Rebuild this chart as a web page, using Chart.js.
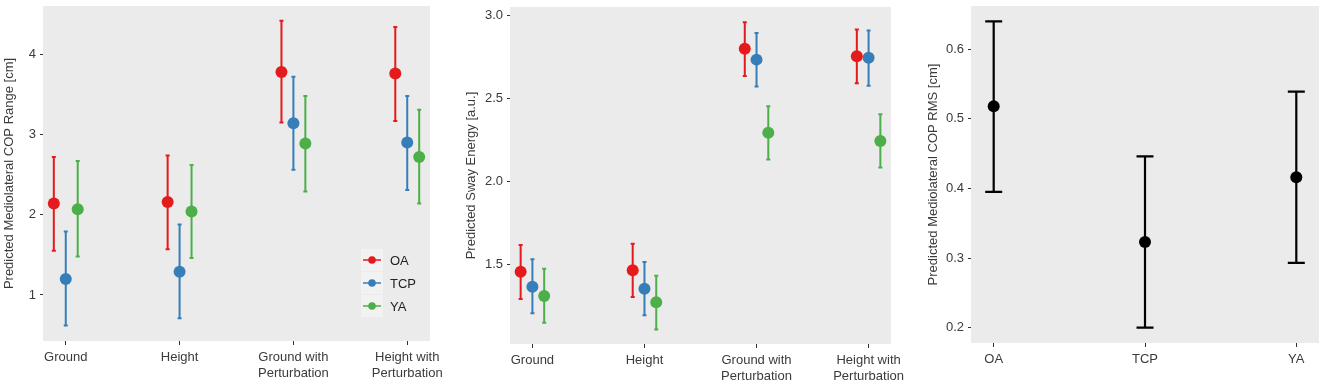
<!DOCTYPE html>
<html lang="en">
<head>
    <meta charset="UTF-8">
    <title>Predicted COP measures by condition and group</title>
    <script src="https://cdn.jsdelivr.net/npm/chart.js"></script>
    <style>
        body { margin: 0; background: #fff; }
        .panel { position: absolute; top: 0; }
    </style>
</head>
<body>
    <div class="panel" style="left:0px"><canvas id="rangeChart" width="450" height="387"></canvas></div>
    <div class="panel" style="left:450px"><canvas id="swayChart" width="455" height="387"></canvas></div>
    <div class="panel" style="left:905px"><canvas id="rmsChart" width="420" height="387"></canvas></div>

    <script>
        // categories
        const conditions = [['Ground'], ['Height'], ['Ground with', 'Perturbation'], ['Height with', 'Perturbation']];
        const groups = ['OA', 'TCP', 'YA'];
        const groupColors = ['#e41a1c', '#377eb8', '#4daf4a'];

        // panel 1: mediolateral COP range [cm]
        const rangeMeanOA = [2.14, 2.16, 3.78, 3.76];
        const rangeLowOA = [1.55, 1.57, 3.15, 3.17];
        const rangeHighOA = [2.72, 2.74, 4.42, 4.34];
        const rangeMeanTCP = [1.20, 1.29, 3.14, 2.90];
        const rangeLowTCP = [0.62, 0.71, 2.56, 2.31];
        const rangeHighTCP = [1.79, 1.88, 3.72, 3.48];
        const rangeMeanYA = [2.07, 2.04, 2.89, 2.72];
        const rangeLowYA = [1.48, 1.46, 2.29, 2.14];
        const rangeHighYA = [2.67, 2.62, 3.48, 3.31];
        const rangeTicks = [1, 2, 3, 4];
        const rangeTickLabels = ['1', '2', '3', '4'];

        // panel 2: sway energy [a.u.]
        const swayMeanOA = [1.455, 1.464, 2.798, 2.753];
        const swayLowOA = [1.291, 1.303, 2.635, 2.590];
        const swayHighOA = [1.616, 1.624, 2.958, 2.914];
        const swayMeanTCP = [1.365, 1.353, 2.733, 2.745];
        const swayLowTCP = [1.205, 1.193, 2.571, 2.576];
        const swayHighTCP = [1.530, 1.514, 2.894, 2.908];
        const swayMeanYA = [1.309, 1.271, 2.292, 2.243];
        const swayLowYA = [1.148, 1.108, 2.131, 2.083];
        const swayHighYA = [1.474, 1.431, 2.452, 2.404];
        const swayTicks = [1.5, 2.0, 2.5, 3.0];
        const swayTickLabels = ['1.5', '2.0', '2.5', '3.0'];

        // panel 3: mediolateral COP RMS [cm]
        const rmsMean = [0.518, 0.323, 0.416];
        const rmsLow = [0.395, 0.200, 0.293];
        const rmsHigh = [0.640, 0.446, 0.539];
        const rmsTicks = [0.2, 0.3, 0.4, 0.5, 0.6];
        const rmsTickLabels = ['0.2', '0.3', '0.4', '0.5', '0.6'];

        const dodge = 0.105;
        const font = 'Liberation Sans, Arial, sans-serif';
        const textColor = '#3b3b3b';

        Chart.defaults.font.family = font;
        Chart.defaults.font.size = 13;
        Chart.defaults.color = textColor;

        const panelBackground = {
            id: 'panelBackground',
            beforeDraw(chart) {
                const a = chart.chartArea;
                chart.ctx.save();
                chart.ctx.fillStyle = '#ebebeb';
                chart.ctx.fillRect(a.left, a.top, a.right - a.left, a.bottom - a.top);
                chart.ctx.restore();
            }
        };

        const errorBars = {
            id: 'errorBars',
            beforeDatasetsDraw(chart, args, opts) {
                const ctx = chart.ctx;
                const xs = chart.scales.x, ys = chart.scales.y;
                chart.data.datasets.forEach(ds => {
                    ctx.save();
                    ctx.strokeStyle = ds.backgroundColor;
                    ctx.lineWidth = opts.width;
                    ds.data.forEach((p, i) => {
                        const x = xs.getPixelForValue(p.x);
                        const y1 = ys.getPixelForValue(ds.low[i]);
                        const y2 = ys.getPixelForValue(ds.high[i]);
                        ctx.beginPath();
                        ctx.moveTo(x, y1); ctx.lineTo(x, y2);
                        ctx.moveTo(x - opts.cap, y1); ctx.lineTo(x + opts.cap, y1);
                        ctx.moveTo(x - opts.cap, y2); ctx.lineTo(x + opts.cap, y2);
                        ctx.stroke();
                    });
                    ctx.restore();
                });
            }
        };

        const groupLegend = {
            id: 'groupLegend',
            afterDraw(chart) {
                const ctx = chart.ctx;
                const a = chart.chartArea;
                const n = chart.data.datasets.length;
                const key = 22, gap = 1;
                const left = a.right - 69;
                const top = a.bottom - 24 - n * key - (n - 1) * gap;
                ctx.save();
                chart.data.datasets.forEach((ds, i) => {
                    const y = top + i * (key + gap);
                    ctx.fillStyle = '#f2f2f2';
                    ctx.fillRect(left, y, key, key);
                    ctx.strokeStyle = ds.backgroundColor;
                    ctx.lineWidth = 1.5;
                    ctx.beginPath();
                    ctx.moveTo(left + 2, y + key / 2);
                    ctx.lineTo(left + key - 2, y + key / 2);
                    ctx.stroke();
                    ctx.fillStyle = ds.backgroundColor;
                    ctx.beginPath();
                    ctx.arc(left + key / 2, y + key / 2, 3.8, 0, Math.PI * 2);
                    ctx.fill();
                    ctx.fillStyle = '#222';
                    ctx.font = '13px ' + font;
                    ctx.textBaseline = 'middle';
                    ctx.fillText(ds.label, left + key + 7, y + key / 2 + 1);
                });
                ctx.restore();
            }
        };

        function groupSet(label, color, offset, means, low, high) {
            return {
                label: label,
                data: means.map((v, i) => ({ x: i + 1 + offset, y: v })),
                low: low,
                high: high,
                backgroundColor: color,
                borderColor: color,
                borderWidth: 0,
                pointRadius: 6,
                pointHoverRadius: 6
            };
        }

        function noOverflow(axis) {
            axis.paddingLeft = 0;
            axis.paddingRight = 0;
            axis.paddingTop = 0;
            axis.paddingBottom = 0;
        }

        function makeChart(id, datasets, cfg) {
            new Chart(document.getElementById(id), {
                type: 'scatter',
                data: { datasets: datasets },
                plugins: cfg.legend ? [panelBackground, errorBars, groupLegend] : [panelBackground, errorBars],
                options: {
                    responsive: false,
                    animation: false,
                    events: [],
                    layout: { padding: cfg.padding },
                    plugins: {
                        legend: { display: false },
                        tooltip: { enabled: false },
                        errorBars: cfg.bars
                    },
                    scales: {
                        x: {
                            type: 'linear',
                            min: cfg.xMin,
                            max: cfg.xMax,
                            afterBuildTicks: axis => { axis.ticks = cfg.xLabels.map((c, i) => ({ value: i + 1 })); },
                            afterFit: axis => { axis.height = cfg.xHeight; noOverflow(axis); },
                            ticks: {
                                autoSkip: false,
                                maxRotation: 0,
                                padding: 5,
                                color: textColor,
                                callback: (v) => cfg.xLabels[Math.round(v) - 1]
                            },
                            grid: { drawOnChartArea: false, tickLength: 4, color: '#333' },
                            border: { display: false }
                        },
                        y: {
                            min: cfg.yMin,
                            max: cfg.yMax,
                            afterBuildTicks: axis => { axis.ticks = cfg.yTicks.map(v => ({ value: v })); },
                            afterFit: axis => { axis.width = cfg.yWidth; noOverflow(axis); },
                            ticks: {
                                padding: 4,
                                color: textColor,
                                callback: (v, i) => cfg.yTickLabels[i]
                            },
                            grid: { drawOnChartArea: false, tickLength: 3, color: '#333' },
                            border: { display: false },
                            title: {
                                display: true,
                                text: cfg.yTitle,
                                color: textColor,
                                font: { size: 13 },
                                padding: { top: cfg.titlePad, bottom: 0 }
                            }
                        }
                    }
                }
            });
        }

        makeChart('rangeChart', [
            groupSet(groups[0], groupColors[0], -dodge, rangeMeanOA, rangeLowOA, rangeHighOA),
            groupSet(groups[1], groupColors[1], 0, rangeMeanTCP, rangeLowTCP, rangeHighTCP),
            groupSet(groups[2], groupColors[2], dodge, rangeMeanYA, rangeLowYA, rangeHighYA)
        ], {
            legend: true,
            padding: { left: 0, right: 20, top: 4, bottom: 0 },
            bars: { width: 2, cap: 2 },
            xMin: 0.8, xMax: 4.2, xLabels: conditions, xHeight: 46,
            yMin: 0.426, yMax: 4.603, yTicks: rangeTicks, yTickLabels: rangeTickLabels, yWidth: 43,
            yTitle: 'Predicted Mediolateral COP Range [cm]', titlePad: 2
        });

        makeChart('swayChart', [
            groupSet(groups[0], groupColors[0], -dodge, swayMeanOA, swayLowOA, swayHighOA),
            groupSet(groups[1], groupColors[1], 0, swayMeanTCP, swayLowTCP, swayHighTCP),
            groupSet(groups[2], groupColors[2], dodge, swayMeanYA, swayLowYA, swayHighYA)
        ], {
            legend: false,
            padding: { left: 0, right: 14, top: 7, bottom: 0 },
            bars: { width: 2, cap: 2 },
            xMin: 0.8, xMax: 4.2, xLabels: conditions, xHeight: 43,
            yMin: 1.02, yMax: 3.05, yTicks: swayTicks, yTickLabels: swayTickLabels, yWidth: 60,
            yTitle: 'Predicted Sway Energy [a.u.]', titlePad: 14
        });

        makeChart('rmsChart', [
            {
                label: 'RMS',
                data: rmsMean.map((v, i) => ({ x: i + 1, y: v })),
                low: rmsLow,
                high: rmsHigh,
                backgroundColor: '#000',
                borderColor: '#000',
                borderWidth: 0,
                pointRadius: 6,
                pointHoverRadius: 6
            }
        ], {
            legend: false,
            padding: { left: 0, right: 4, top: 4, bottom: 0 },
            bars: { width: 2.2, cap: 8.5 },
            xMin: 0.85, xMax: 3.15, xLabels: groups, xHeight: 44,
            yMin: 0.178, yMax: 0.662, yTicks: rmsTicks, yTickLabels: rmsTickLabels, yWidth: 66,
            yTitle: 'Predicted Mediolateral COP RMS [cm]', titlePad: 21
        });
    </script>
</body>
</html>
